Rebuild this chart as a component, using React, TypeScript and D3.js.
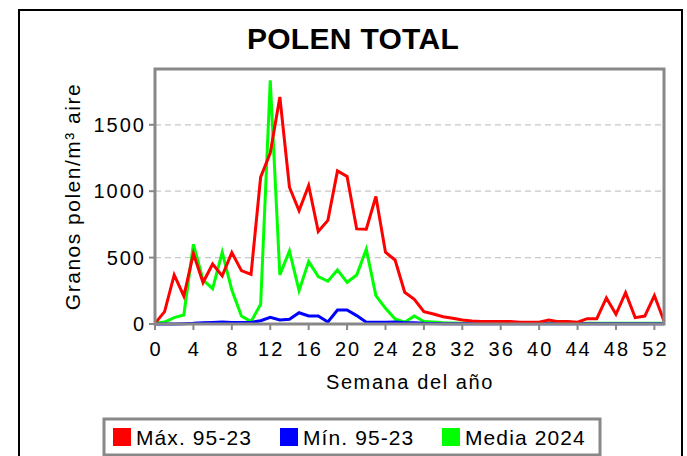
import React from "react";
import * as d3 from "d3";

// semanas 0..53
const weeks = d3.range(0, 54);

const maxValues = [
  5, 93, 370, 211, 530, 312, 452, 362, 538, 402, 374, 1106, 1287, 1709, 1030, 854, 1043, 696, 780,
  1153, 1111, 716, 714, 960, 540, 482, 239, 186, 93, 75, 55, 43, 30, 23, 18, 18, 18, 18, 13, 13,
  13, 30, 18, 18, 13, 40, 40, 196, 73, 236, 48, 60, 214, 23,
];

const minValues = [
  0, 0, 0, 2, 5, 10, 12, 15, 12, 12, 12, 25, 50, 30, 35, 85, 60, 60, 15,
  105, 105, 63, 13, 13, 13, 15, 10, 10, 5, 3, 2, 2, 2, 2, 2, 2, 2, 2, 2, 2,
  2, 2, 2, 2, 2, 2, 2, 2, 2, 2, 2, 2, 2, 2,
];

const mediaValues = [
  5, 15, 48, 68, 600, 332, 266, 540, 256, 60, 18, 148, 1835, 370, 550, 251, 470, 357, 322,
  407, 314, 369, 563, 214, 118, 38, 13, 60, 18, 15, 10, 8, 5, 5, 5, 5, 5, 5, 5, 5,
  5, 5, 5, 5, 5, 5, 5, 5, 5, 5, 5, 5, 5, 5,
];

const yTicks = [0, 500, 1000, 1500];
const xTicks = d3.range(0, 53, 4);

const series = [
  { name: "Media 2024", color: "#00ff00", values: mediaValues },
  { name: "Mín. 95-23", color: "#0000ff", values: minValues },
  { name: "Máx. 95-23", color: "#ff0000", values: maxValues },
];
const legendItems = [
  { name: "Máx. 95-23", color: "#ff0000", x: 113 },
  { name: "Mín. 95-23", color: "#0000ff", x: 280 },
  { name: "Media 2024", color: "#00ff00", x: 442 },
];

const font = "'Liberation Sans', Arial, sans-serif";

export default function App() {
  const left = 155, right = 664, top = 69, bottom = 324;
  const x = d3.scaleLinear().domain([0, 53]).range([left, right]);
  const y = d3.scaleLinear().domain([0, 1920]).range([bottom, top]);

  return (
    <svg width={687} height={456} style={{ position: "absolute", left: 0, top: 0 }}>
      <rect x={0} y={0} width={687} height={456} fill="#fff" />
      <rect x={19} y={10} width={663} height={460} fill="none" stroke="#000" strokeWidth={2} />

      <text x={353} y={49} textAnchor="middle" fontFamily={font} fontWeight="bold" fontSize={30} letterSpacing={0.3}>
        POLEN TOTAL
      </text>

      {/* rejilla */}
      {yTicks.filter((t) => t > 0).map((t) => (
        <line key={t} x1={left} x2={right} y1={y(t)} y2={y(t)} stroke="#c8c8c8" strokeWidth={1.3} strokeDasharray="6,4" />
      ))}

      {/* series */}
      {series.map((s) => {
        const line = d3.line<number>().x((_, i) => x(weeks[i])).y((d) => y(d));
        return <path key={s.name} d={line(s.values) || ""} fill="none" stroke={s.color} strokeWidth={3} strokeLinejoin="miter" />;
      })}

      <rect x={left} y={top} width={right - left} height={bottom - top} fill="none" stroke="#888" strokeWidth={3} />

      {/* eje y */}
      {yTicks.map((t) => (
        <g key={t}>
          <line x1={left - 6} x2={left} y1={y(t)} y2={y(t)} stroke="#888" strokeWidth={2} />
          <text x={left - 9} y={y(t) + 7} textAnchor="end" fontFamily={font} fontSize={20} letterSpacing={2}>
            {t}
          </text>
        </g>
      ))}

      {/* eje x */}
      {xTicks.map((t) => (
        <g key={t}>
          <line x1={x(t)} x2={x(t)} y1={bottom} y2={bottom + 6} stroke="#888" strokeWidth={2} />
          <text x={x(t) + 1} y={356} textAnchor="middle" fontFamily={font} fontSize={20} letterSpacing={2}>
            {t}
          </text>
        </g>
      ))}

      <text x={410} y={389} textAnchor="middle" fontFamily={font} fontSize={20} letterSpacing={1.6}>
        Semana del año
      </text>
      <text
        transform={`translate(80, ${(top + bottom) / 2}) rotate(-90)`}
        textAnchor="middle"
        fontFamily={font}
        fontSize={21}
        letterSpacing={1.5}
      >
        Granos polen/m³ aire
      </text>

      {/* leyenda */}
      <rect x={104} y={419} width={496} height={36} fill="#fff" stroke="#888" strokeWidth={3} />
      {legendItems.map((l) => (
        <g key={l.name}>
          <rect x={l.x} y={428} width={18} height={18} fill={l.color} />
          <text x={l.x + 23} y={445} fontFamily={font} fontSize={21} letterSpacing={1.1}>
            {l.name}
          </text>
        </g>
      ))}
    </svg>
  );
}
